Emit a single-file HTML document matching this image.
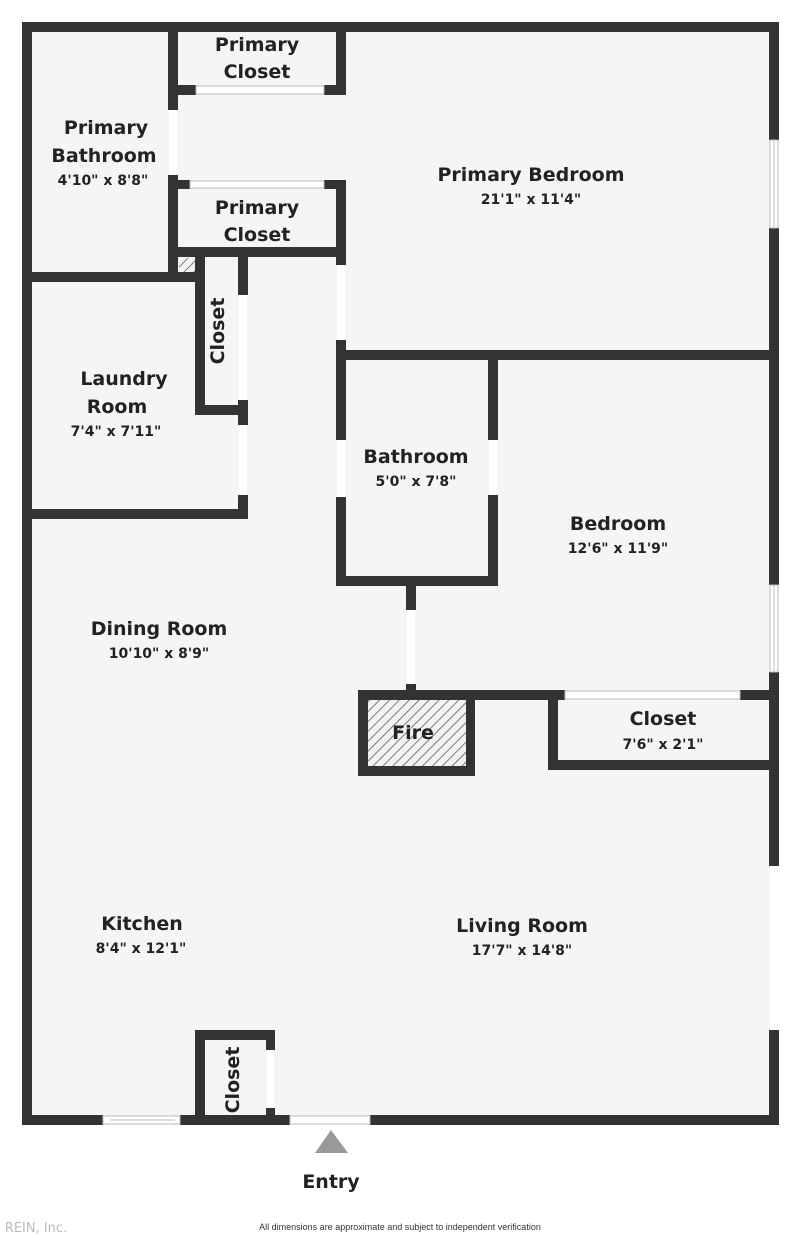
<!DOCTYPE html>
<html><head><style>
html,body{margin:0;padding:0;background:#fff;}
svg{display:block;}
text{font-family:"DejaVu Sans","Liberation Sans",sans-serif;font-weight:bold;fill:#222;text-anchor:middle;}
.n{font-size:19px;}
.d{font-size:14px;}
</style></head><body>
<svg width="800" height="1236" viewBox="0 0 800 1236" xmlns="http://www.w3.org/2000/svg">
<defs>
<pattern id="h" width="7" height="7" patternUnits="userSpaceOnUse" patternTransform="rotate(45)">
<rect width="7" height="7" fill="#f2f2f2"/><line x1="0" y1="0" x2="0" y2="7" stroke="#555" stroke-width="1.5"/>
</pattern>
</defs>
<rect x="27" y="27" width="747" height="1093" fill="#f5f5f5"/>
<g fill="#fff">
<rect x="169" y="110" width="8" height="65"/>
<rect x="239" y="295" width="8" height="105"/>
<rect x="239" y="425" width="8" height="70"/>
<rect x="337" y="265" width="8" height="75"/>
<rect x="337" y="440" width="8" height="57"/>
<rect x="489" y="440" width="8" height="55"/>
<rect x="407" y="610" width="8" height="74"/>
<rect x="267" y="1050" width="7" height="58"/>
</g>
<g fill="#333">
<rect x="22" y="22" width="756" height="10"/>
<rect x="22" y="22" width="10" height="1102"/>
<rect x="769" y="22" width="10" height="118"/>
<rect x="769" y="228" width="10" height="357"/>
<rect x="769" y="672" width="10" height="194"/>
<rect x="769" y="1030" width="10" height="94"/>
<rect x="22" y="1115" width="81" height="10"/>
<rect x="180" y="1115" width="110" height="10"/>
<rect x="370" y="1115" width="409" height="10"/>
<rect x="168" y="22" width="10" height="88"/>
<rect x="336" y="22" width="10" height="73"/>
<rect x="168" y="85" width="28" height="10"/>
<rect x="324" y="85" width="22" height="10"/>
<rect x="168" y="175" width="10" height="106"/>
<rect x="168" y="180" width="22" height="9"/>
<rect x="324" y="180" width="22" height="9"/>
<rect x="336" y="180" width="10" height="85"/>
<rect x="168" y="247" width="178" height="10"/>
<rect x="22" y="272" width="180" height="10"/>
<rect x="195" y="253" width="10" height="162"/>
<rect x="195" y="405" width="52" height="10"/>
<rect x="238" y="253" width="10" height="42"/>
<rect x="238" y="400" width="10" height="25"/>
<rect x="238" y="495" width="10" height="23"/>
<rect x="22" y="509" width="226" height="10"/>
<rect x="336" y="340" width="10" height="20"/>
<rect x="336" y="350" width="443" height="10"/>
<rect x="336" y="350" width="10" height="90"/>
<rect x="336" y="497" width="10" height="88"/>
<rect x="336" y="576" width="161" height="10"/>
<rect x="488" y="355" width="10" height="85"/>
<rect x="488" y="495" width="10" height="91"/>
<rect x="406" y="585" width="10" height="25"/>
<rect x="406" y="684" width="10" height="12"/>
<rect x="358" y="690" width="207" height="10"/>
<rect x="740" y="690" width="39" height="10"/>
<rect x="358" y="690" width="117" height="86"/>
<rect x="548" y="690" width="10" height="80"/>
<rect x="548" y="760" width="231" height="10"/>
<rect x="195" y="1030" width="80" height="10"/>
<rect x="195" y="1030" width="10" height="95"/>
<rect x="266" y="1030" width="9" height="20"/>
<rect x="266" y="1108" width="9" height="17"/>
</g>
<rect x="368" y="700" width="98" height="66" fill="url(#h)"/>
<rect x="179" y="258" width="16" height="14" fill="url(#h)"/>
<g fill="#fff" stroke="#bbb" stroke-width="1">
<rect x="196" y="86" width="128" height="8"/>
<rect x="190" y="181" width="134" height="7"/>
<rect x="770" y="140" width="8" height="88"/>
<rect x="770" y="585" width="8" height="87"/>
<rect x="565" y="691" width="175" height="8"/>
<rect x="103" y="1116" width="77" height="8"/>
<rect x="290" y="1116" width="80" height="8"/>
</g>
<line x1="774" y1="140" x2="774" y2="228" stroke="#bbb"/>
<line x1="774" y1="585" x2="774" y2="672" stroke="#bbb"/>
<line x1="110" y1="1120" x2="175" y2="1120" stroke="#bbb"/>
<rect x="770" y="866" width="8" height="164" fill="#fff"/>
<polygon points="315,1153 348,1153 331,1130" fill="#999"/>
<text class="n" x="257" y="51">Primary</text>
<text class="n" x="257" y="78">Closet</text>
<text class="n" x="106" y="134">Primary</text>
<text class="n" x="104" y="162">Bathroom</text>
<text class="d" x="103" y="185">4'10" x 8'8"</text>
<text class="n" x="257" y="214">Primary</text>
<text class="n" x="257" y="241">Closet</text>
<text class="n" x="531" y="181">Primary Bedroom</text>
<text class="d" x="531" y="204">21'1" x 11'4"</text>
<text class="n" transform="translate(224,331) rotate(-90)" y="0">Closet</text>
<text class="n" x="124" y="385">Laundry</text>
<text class="n" x="117" y="413">Room</text>
<text class="d" x="116" y="436">7'4" x 7'11"</text>
<text class="n" x="416" y="463">Bathroom</text>
<text class="d" x="416" y="486">5'0" x 7'8"</text>
<text class="n" x="618" y="530">Bedroom</text>
<text class="d" x="618" y="553">12'6" x 11'9"</text>
<text class="n" x="159" y="635">Dining Room</text>
<text class="d" x="159" y="658">10'10" x 8'9"</text>
<text class="n" x="413" y="739">Fire</text>
<text class="n" x="663" y="725">Closet</text>
<text class="d" x="663" y="749">7'6" x 2'1"</text>
<text class="n" x="142" y="930">Kitchen</text>
<text class="d" x="141" y="953">8'4" x 12'1"</text>
<text class="n" x="522" y="932">Living Room</text>
<text class="d" x="522" y="955">17'7" x 14'8"</text>
<text class="n" transform="translate(239,1080) rotate(-90)" y="0">Closet</text>
<text class="n" x="331" y="1188">Entry</text>
<text x="400" y="1230" style="font-size:9px;font-weight:normal;fill:#333;font-family:'Liberation Sans Narrow','Liberation Sans',sans-serif">All dimensions are approximate and subject to independent verification</text>
<text x="36" y="1232" style="font-size:13px;font-weight:normal;fill:#bbb">REIN, Inc.</text>
</svg>
</body></html>
